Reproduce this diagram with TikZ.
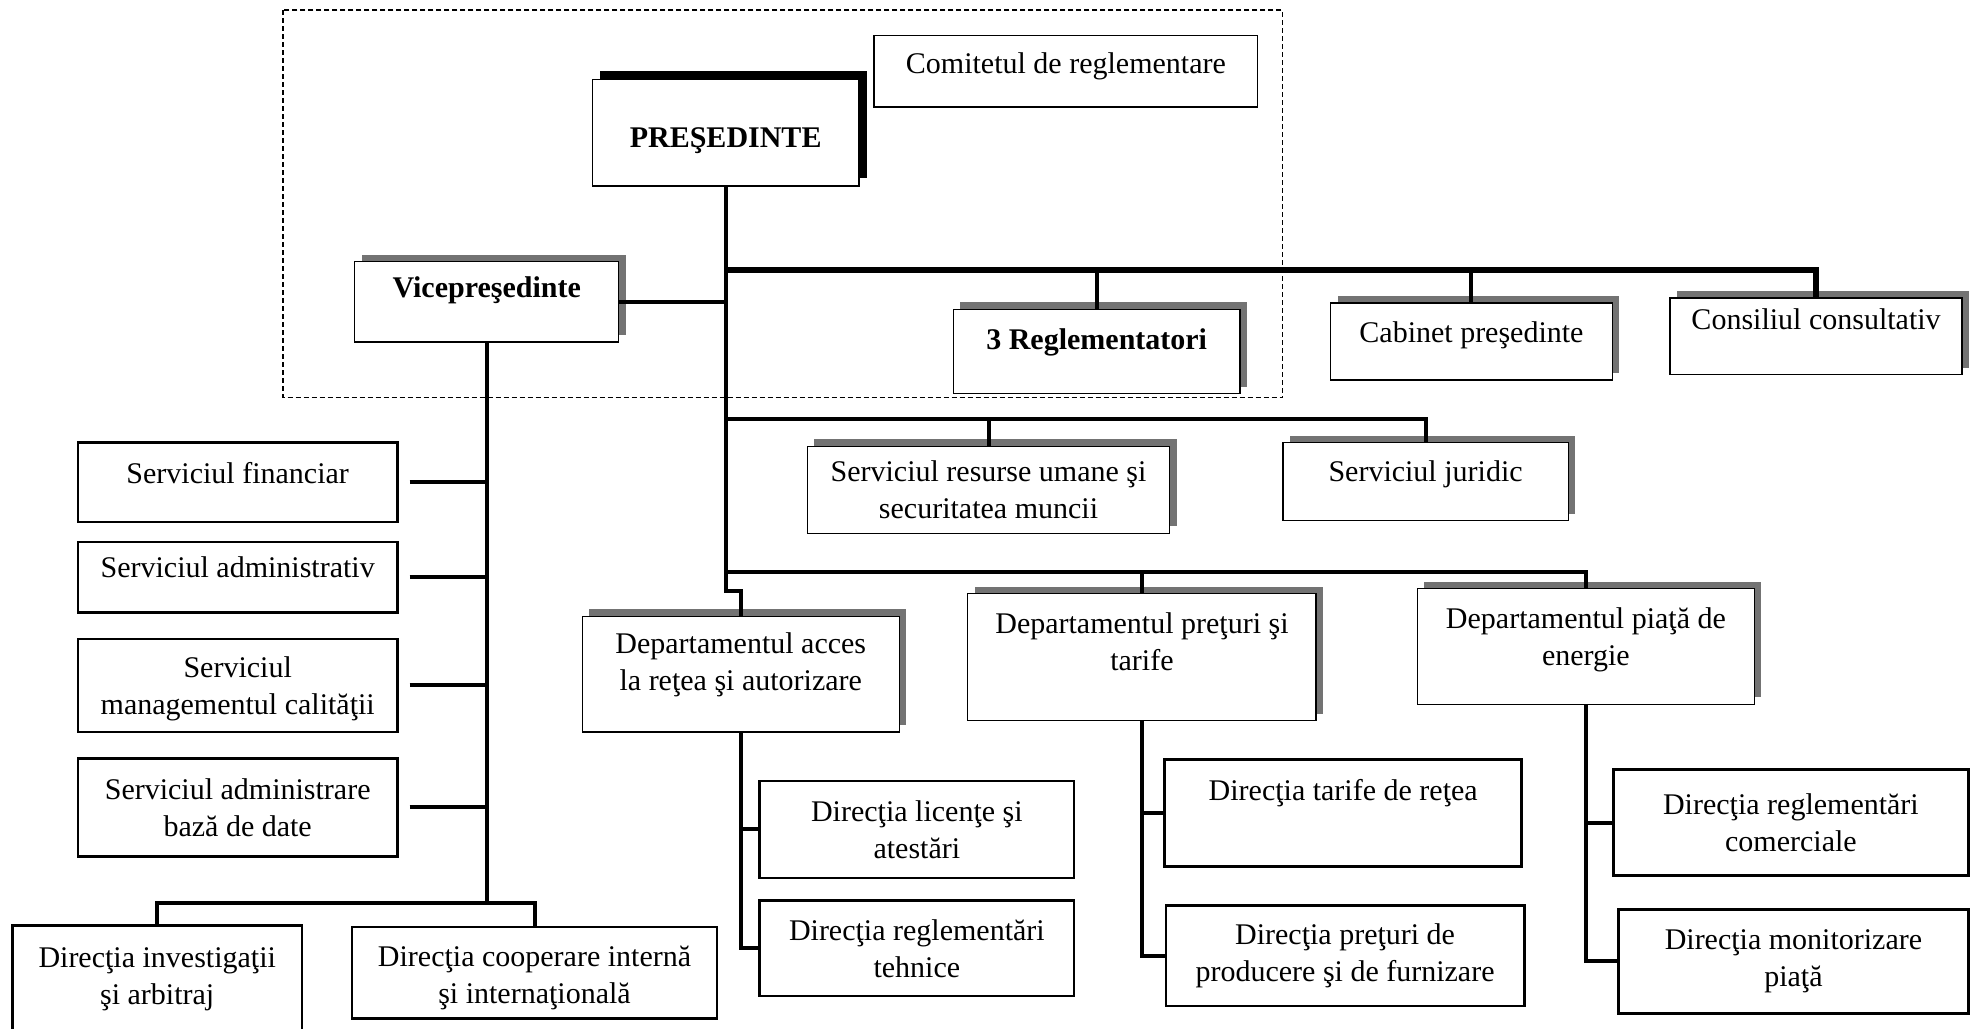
\documentclass[tikz,border=0pt]{standalone}
\usepackage{fontspec}
\setmainfont{Liberation Serif}
\usetikzlibrary{shadows}

\newcommand{\un}{1.2577pt}
% push the text of a box up (extra depth) or down (extra height)
\newcommand{\lift}[1]{\rule[-#1]{0pt}{0pt}}
\newcommand{\sink}[1]{\rule{0pt}{#1}}

\tikzset{
  box/.style={draw, fill=white, line width=1.4pt, align=center, inner sep=2pt,
    font=\fontsize{30}{37}\selectfont},
  boxsize/.style 2 args={minimum width=#1*\un, minimum height=#2*\un},
  bold/.style={font=\fontsize{30}{37}\selectfont\bfseries},
  grayshadow/.style={drop shadow={shadow xshift=7pt, shadow yshift=7pt, fill=black!55, opacity=1}},
  blackshadow/.style={drop shadow={shadow xshift=8pt, shadow yshift=8pt, fill=black, opacity=1}},
  plainbox/.style={box, line width=2.6pt},
  conn/.style={line width=4pt},
}

\begin{document}
\begin{tikzpicture}[x=1.2577pt, y=-1.2577pt]
\useasboundingbox (0,0) rectangle (1568,818);

% dashed frame
\draw[line width=1.3pt, dash pattern=on 5pt off 3pt] (225,8) rectangle (1020,316);

% top level
\node[box, boxsize={305}{57}] (com) at (847.5,56.5) {Comitetul de reglementare\lift{16pt}};
\node[box, blackshadow, bold, boxsize={212}{85}] (pres) at (577,105.5) {\sink{35pt}PREŞEDINTE};
\node[box, grayshadow, bold, boxsize={210}{64}] (vice) at (387,240) {Vicepreşedinte\lift{29pt}};
\node[box, grayshadow, bold, boxsize={228}{67}] (regl) at (872,279.5) {3 Reglementatori\lift{24pt}};
\node[box, grayshadow, boxsize={224}{61}] (cab) at (1170,271.5) {Cabinet preşedinte\lift{19pt}};
\node[box, grayshadow, boxsize={232}{61}] (cons) at (1444,267.5) {Consiliul consultativ\lift{34pt}};

% services
\node[box, grayshadow, boxsize={288}{69}] (res) at (786,389.5) {Serviciul resurse umane şi\\securitatea muncii};
\node[box, grayshadow, boxsize={227}{62}] (jur) at (1133.5,383) {Serviciul juridic\lift{21pt}};

% departments
\node[box, grayshadow, boxsize={252}{92}] (acces) at (589,536) {Departamentul acces\\la reţea şi autorizare\lift{26pt}};
\node[box, grayshadow, boxsize={277}{101}] (pret) at (908,522.5) {Departamentul preţuri şi\\tarife\lift{31pt}};
\node[box, grayshadow, boxsize={268}{92}] (piata) at (1261,514) {Departamentul piaţă de\\energie\lift{19pt}};

% under vicepresedinte
\node[plainbox, boxsize={254}{63}] (fin) at (189,383.5) {Serviciul financiar\lift{19pt}};
\node[plainbox, boxsize={254}{56}] (adm) at (189,459) {Serviciul administrativ\lift{21pt}};
\node[plainbox, boxsize={254}{74}] (cal) at (189,545) {\sink{28pt}Serviciul\\managementul calităţii};
\node[plainbox, boxsize={254}{78}] (bd) at (189,642) {Serviciul administrare\\bază de date};
\node[plainbox, boxsize={230}{86}] (inv) at (125,779) {Direcţia investigaţii\\şi arbitraj};
\node[plainbox, boxsize={290}{73}] (coop) at (425,773.5) {\sink{30pt}Direcţia cooperare internă\\şi internaţională};

% directions
\node[plainbox, boxsize={250}{77}] (lic) at (729,659.5) {Direcţia licenţe şi\\atestări};
\node[plainbox, boxsize={250}{76}] (teh) at (729,754) {Direcţia reglementări\\tehnice};
\node[plainbox, boxsize={284}{85}] (tar) at (1068,646.5) {Direcţia tarife de reţea\lift{46pt}};
\node[plainbox, boxsize={285}{80}] (prod) at (1069.5,760) {Direcţia preţuri de\\producere şi de furnizare};
\node[plainbox, boxsize={282}{84}] (rcom) at (1424,654) {Direcţia reglementări\\comerciale};
\node[plainbox, boxsize={278}{83}] (mon) at (1426,764.5) {Direcţia monitorizare\\piaţă};

% connectors
\coordinate (tbar) at (577,215);
\coordinate (sbar) at (577,333);
\coordinate (dbar) at (577,455);
\coordinate (jog) at (577,470);
\coordinate (vbar) at (387,718);

\draw[conn] (pres.south) -- (jog) -| (acces.north);
\draw[conn, line width=6pt] (tbar) -| (cons.north);
\draw[conn] (regl.north) -- (regl.north |- tbar);
\draw[conn] (cab.north) -- (cab.north |- tbar);
\draw[conn] (vice.east) -- (vice.east -| pres.south);
\draw[conn] (sbar) -| (jur.north);
\draw[conn] (res.north) -- (res.north |- sbar);
\draw[conn] (dbar) -| (piata.north);
\draw[conn] (pret.north) -- (pret.north |- dbar);
\draw[conn] (vice.south) -- (vbar);
\draw[conn] (inv.north) |- (vbar) -| (coop.north);
\foreach \n in {fin,adm,cal,bd}
  \draw[conn] ([xshift=11pt]\n.east) -- (\n.east -| vbar);
\foreach \n in {lic,teh}
  \draw[conn] (acces.south) |- (\n.west);
\foreach \n in {tar,prod}
  \draw[conn] (pret.south) |- (\n.west);
\foreach \n in {rcom,mon}
  \draw[conn] (piata.south) |- (\n.west);
\end{tikzpicture}
\end{document}
